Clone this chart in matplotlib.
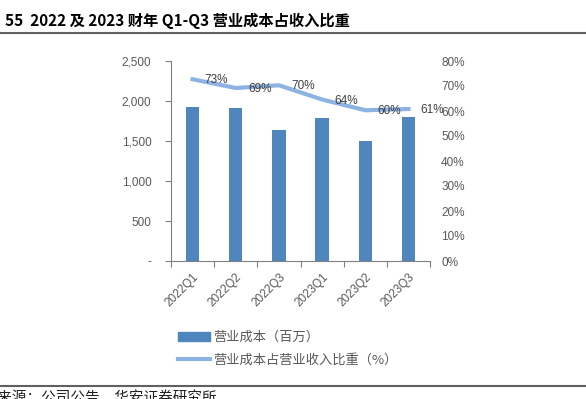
import matplotlib
matplotlib.use("Agg")
import matplotlib.pyplot as plt
from matplotlib.lines import Line2D
from matplotlib.patches import Patch
from matplotlib.ticker import FuncFormatter

plt.rcParams["font.family"] = ["Liberation Sans", "Noto Sans CJK SC", "DejaVu Sans"]

quarters = ["2022Q1", "2022Q2", "2022Q3", "2023Q1", "2023Q2", "2023Q3"]
cost = [1929, 1916, 1637, 1787, 1504, 1796]
cost_ratio = [72.7, 69.2, 70.3, 64.6, 60.3, 60.8]
ratio_labels = ["73%", "69%", "70%", "64%", "60%", "61%"]

bar_color = "#4f86bd"
line_color = "#8db3e2"
gray = "#595959"

fig = plt.figure(figsize=(5.86, 3.99), dpi=100)
ax = fig.add_axes([171 / 586, 1 - 261 / 399, 259 / 586, 200 / 399])
ax2 = ax.twinx()

x = list(range(len(quarters)))
ax.bar(x, cost, width=0.31, color=bar_color, zorder=2)
ax.set_xlim(-0.5, len(quarters) - 0.5)
ax.set_ylim(0, 2500)
ax.set_yticks([0, 500, 1000, 1500, 2000, 2500])
ax.yaxis.set_major_formatter(FuncFormatter(lambda v, p: "-" if v == 0 else f"{v:,.0f}"))
ax.set_xticks([i - 0.5 for i in range(len(quarters) + 1)])
ax.set_xticklabels([])
ax.set_xticks(x, minor=True)
ax.set_xticklabels(quarters, minor=True, rotation=45, ha="right", rotation_mode="anchor",
                   fontsize=8.5, color=gray)
ax.tick_params(axis="x", which="minor", length=0, pad=7)
ax.tick_params(axis="x", which="major", length=4, color="#808080", direction="out")
ax.tick_params(axis="y", length=4, color="#808080", labelsize=8.5, labelcolor=gray, pad=10)

ax2.plot(x, cost_ratio, color=line_color, lw=3, zorder=3)
ax2.set_ylim(0, 80)
ax2.set_yticks(range(0, 81, 10))
ax2.yaxis.set_major_formatter(FuncFormatter(lambda v, p: f"{v:.0f}%"))
ax2.tick_params(axis="y", length=0, labelsize=8.5, labelcolor=gray, pad=8)
for xi, yi, lab in zip(x, cost_ratio, ratio_labels):
    ax2.annotate(lab, (xi, yi), xytext=(24, -1), textcoords="offset pixels",
                 ha="center", va="center", fontsize=8.5, color="#404040")

for a in (ax, ax2):
    a.spines["top"].set_visible(False)
    a.spines["right"].set_visible(False)
ax.spines["left"].set_color("#808080")
ax.spines["bottom"].set_color("#808080")
ax2.spines["left"].set_visible(False)
ax2.spines["bottom"].set_visible(False)

handles = [Patch(color=bar_color), Line2D([0], [0], color=line_color, lw=3)]
fig.legend(handles, ["营业成本（百万）", "营业成本占营业收入比重（%）"],
           loc="upper left", bbox_to_anchor=(166 / 586, 1 - 319 / 399), frameon=False,
           prop={"family": ["Noto Sans CJK SC"], "size": 9.5}, labelcolor=gray,
           handlelength=2.4, handleheight=0.7, handletextpad=0.3, labelspacing=0.75)

fig.text(5 / 586, 1 - 21 / 399, "55  2022 及 2023 财年 Q1-Q3 营业成本占收入比重",
         fontsize=11, fontweight="bold", va="center", ha="left",
         family=["Noto Sans CJK SC", "DejaVu Sans"])
fig.add_artist(Line2D([0, 1], [1 - 33 / 399] * 2, color="#606060", lw=1.5))
fig.add_artist(Line2D([0, 1], [1 - 386 / 399] * 2, color="#606060", lw=1.5))
fig.text(-32 / 586, 1 - 390 / 399, "资料来源：公司公告，华安证券研究所", fontsize=10.5,
         va="top", ha="left", color="#202020", family=["Noto Sans CJK SC"])

fig.savefig("out.png", dpi=100)
